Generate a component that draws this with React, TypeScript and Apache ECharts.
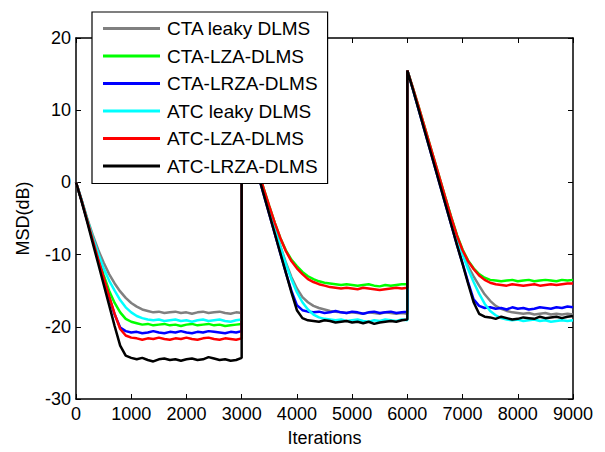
import React, { useEffect, useRef } from "react";
import * as echarts from "echarts";

const ITER = [
  0, 100, 200, 300, 400, 500, 600, 700, 800, 900, 1000, 1100, 1200, 1300, 1400, 1500, 1600, 1700, 1800, 1900, 2000, 2100, 2200, 2300, 2400, 2500, 2600, 2700, 2800, 2900, 3000,
  3000, 3100, 3200, 3300, 3400, 3500, 3600, 3700, 3800, 3900, 4000, 4100, 4200, 4300, 4400, 4500, 4600, 4700, 4800, 4900, 5000, 5100, 5200, 5300, 5400, 5500, 5600, 5700, 5800, 5900, 6000,
  6000, 6100, 6200, 6300, 6400, 6500, 6600, 6700, 6800, 6900, 7000, 7100, 7200, 7300, 7400, 7500, 7600, 7700, 7800, 7900, 8000, 8100, 8200, 8300, 8400, 8500, 8600, 8700, 8800, 8900, 9000,
];

const NAMES = ["CTA leaky DLMS", "CTA-LZA-DLMS", "CTA-LRZA-DLMS", "ATC leaky DLMS", "ATC-LZA-DLMS", "ATC-LRZA-DLMS"];
const COLORS = ["#808080", "#00ff00", "#0000ff", "#00ffff", "#ff0000", "#000000"];

const CTA_LEAKY = [
  0, -2.4, -4.9, -7.2, -9.3, -11.1, -12.7, -14.0, -15.1, -16.0, -16.7, -17.2, -17.6, -17.8, -18.0, -17.9, -18.1, -18.0, -17.9, -18.1, -18.0, -18.2, -18.0, -17.9, -18.1, -18.0, -17.9, -18.1, -18.2, -18.0, -18.1,
  9.0, 6.5, 3.9, 1.3, -1.3, -3.9, -6.4, -8.8, -11.1, -13.1, -14.7, -15.9, -16.6, -17.1, -17.4, -17.6, -17.8, -17.9, -18.0, -18.1, -18.0, -18.1, -18.2, -18.0, -18.1, -18.2, -18.0, -18.1, -18.2, -18.1, -18.2,
  15.5, 13.0, 10.4, 7.8, 5.2, 2.6, 0.0, -2.6, -5.1, -7.5, -9.8, -11.6, -13.0, -14.3, -15.5, -16.4, -17.1, -17.5, -17.8, -18.0, -18.1, -18.2, -18.1, -18.3, -18.2, -18.1, -18.3, -18.2, -18.3, -18.2, -18.3,
];
const CTA_LZA = [
  0, -2.5, -5.1, -7.7, -10.3, -12.8, -15.0, -16.7, -18.0, -18.9, -19.3, -19.5, -19.7, -19.6, -19.8, -19.7, -19.6, -19.8, -19.7, -19.9, -19.7, -19.6, -19.8, -19.7, -19.6, -19.8, -19.7, -19.9, -19.8, -19.7, -19.6,
  9.0, 6.6, 4.1, 1.6, -0.9, -3.3, -5.6, -7.7, -9.4, -10.7, -11.6, -12.4, -13.0, -13.4, -13.7, -13.9, -14.0, -14.1, -14.2, -14.1, -14.2, -14.3, -14.2, -14.1, -14.3, -14.4, -14.2, -14.3, -14.2, -14.1, -14.1,
  15.5, 13.1, 10.6, 8.0, 5.4, 2.8, 0.2, -2.4, -4.9, -7.3, -9.3, -10.8, -11.9, -12.7, -13.2, -13.5, -13.6, -13.7, -13.6, -13.5, -13.7, -13.6, -13.5, -13.7, -13.6, -13.5, -13.6, -13.7, -13.5, -13.6, -13.5,
];
const CTA_LRZA = [
  0, -2.5, -5.2, -7.9, -10.6, -13.3, -15.9, -18.3, -20.1, -20.6, -20.8, -20.7, -20.9, -20.8, -20.6, -20.8, -20.9, -20.7, -20.8, -20.6, -20.8, -20.9, -20.7, -20.8, -20.6, -20.7, -20.8, -20.9, -20.7, -20.8, -20.6,
  9.0, 6.4, 3.7, 1.0, -1.7, -4.4, -7.1, -9.8, -12.5, -15.0, -17.0, -17.7, -17.9, -18.0, -17.9, -18.1, -18.0, -17.8, -18.0, -18.1, -17.9, -18.0, -18.2, -18.0, -17.9, -18.1, -18.0, -17.9, -18.1, -18.0, -17.9,
  15.5, 12.9, 10.2, 7.5, 4.8, 2.1, -0.6, -3.3, -6.0, -8.7, -11.2, -13.8, -16.2, -17.1, -17.4, -17.3, -17.5, -17.4, -17.6, -17.3, -17.5, -17.4, -17.6, -17.5, -17.3, -17.4, -17.5, -17.3, -17.4, -17.2, -17.3,
];
const ATC_LEAKY = [
  0, -2.4, -5.0, -7.5, -9.8, -11.9, -13.6, -15.0, -16.3, -17.3, -18.0, -18.5, -18.8, -19.0, -19.1, -19.0, -19.2, -19.1, -19.0, -19.2, -19.1, -19.3, -19.1, -19.0, -19.2, -19.1, -19.0, -19.2, -19.3, -19.1, -19.0,
  9.0, 6.5, 3.9, 1.3, -1.3, -3.9, -6.4, -8.9, -11.3, -13.4, -15.2, -16.6, -17.6, -18.3, -18.7, -18.9, -19.0, -19.1, -19.0, -19.2, -19.1, -19.0, -19.2, -19.3, -19.1, -19.2, -19.0, -19.1, -19.2, -19.0, -19.1,
  15.5, 13.0, 10.4, 7.8, 5.2, 2.6, 0.0, -2.6, -5.2, -7.7, -10.0, -12.0, -13.8, -15.4, -16.8, -17.8, -18.4, -18.8, -19.0, -19.1, -19.0, -19.2, -19.1, -19.0, -19.2, -19.1, -19.3, -19.2, -19.1, -19.2, -19.1,
];
const ATC_LZA = [
  0, -2.5, -5.2, -7.9, -10.6, -13.2, -15.8, -18.2, -20.3, -21.2, -21.5, -21.6, -21.8, -21.6, -21.7, -21.5, -21.7, -21.8, -21.6, -21.7, -21.5, -21.7, -21.8, -21.6, -21.5, -21.7, -21.8, -21.6, -21.7, -21.8, -21.6,
  9.0, 6.6, 4.1, 1.6, -0.9, -3.3, -5.6, -7.7, -9.5, -10.9, -11.9, -12.7, -13.4, -13.8, -14.1, -14.3, -14.5, -14.6, -14.7, -14.6, -14.7, -14.8, -14.6, -14.7, -14.8, -14.9, -14.8, -14.7, -14.6, -14.7, -14.6,
  15.5, 13.1, 10.6, 8.0, 5.4, 2.8, 0.2, -2.4, -5.0, -7.4, -9.4, -10.9, -12.0, -12.9, -13.5, -13.9, -14.1, -14.2, -14.3, -14.1, -14.2, -14.3, -14.2, -14.1, -14.3, -14.2, -14.1, -14.2, -14.1, -14.0, -14.0,
];
const ATC_LRZA = [
  0, -2.6, -5.4, -8.3, -11.2, -14.1, -17.0, -19.9, -22.6, -24.0, -24.3, -24.5, -24.3, -24.6, -24.8, -24.5, -24.4, -24.6, -24.5, -24.7, -24.5, -24.4, -24.6, -24.5, -24.2, -24.4, -24.6, -24.5, -24.7, -24.6, -24.3,
  9.0, 6.4, 3.7, 1.0, -1.7, -4.4, -7.1, -9.8, -12.5, -15.2, -17.7, -18.8, -19.1, -19.2, -19.3, -19.1, -19.2, -19.4, -19.3, -19.2, -19.4, -19.3, -19.5, -19.3, -19.6, -19.4, -19.3, -19.2, -19.3, -19.1, -19.0,
  15.5, 12.9, 10.2, 7.5, 4.8, 2.1, -0.6, -3.3, -6.0, -8.7, -11.3, -14.0, -16.6, -18.2, -18.6, -18.7, -18.9, -18.6, -18.8, -19.0, -18.9, -18.7, -18.8, -18.9, -18.6, -18.8, -18.7, -18.6, -18.8, -18.6, -18.5,
];

const SERIES_VALUES = [CTA_LEAKY, CTA_LZA, CTA_LRZA, ATC_LEAKY, ATC_LZA, ATC_LRZA];

const FONT = "'Liberation Sans', Arial, sans-serif";

export default function App() {
  const ref = useRef<HTMLDivElement>(null);
  useEffect(() => {
    if (!ref.current) return;
    const chart = echarts.init(ref.current, undefined, { renderer: "svg" });
    const axisLine = { show: true, onZero: false, lineStyle: { color: "#000", width: 1.5 } };
    const axisTick = { show: true, inside: true, length: 5, lineStyle: { color: "#000", width: 1 } };
    const plain = (v: number) => String(v);
    chart.setOption({
      animation: false,
      backgroundColor: "#fff",
      grid: { left: 76, right: 32, top: 38, bottom: 50, containLabel: false },
      legend: {
        data: NAMES,
        orient: "vertical",
        left: 92,
        top: 12,
        padding: [7, 10, 8, 11],
        itemGap: 8.5,
        itemWidth: 57,
        itemHeight: 3,
        icon: "rect",
        backgroundColor: "#fff",
        borderColor: "#000",
        borderWidth: 1.2,
        textStyle: { fontSize: 19, fontFamily: FONT, color: "#000", padding: [0, 0, 0, 2] },
      },
      xAxis: [
        {
          type: "value",
          min: 0,
          max: 9000,
          interval: 1000,
          position: "bottom",
          axisLine,
          axisTick,
          splitLine: { show: false },
          axisLabel: { fontSize: 18, fontFamily: FONT, color: "#000", margin: 6, formatter: plain },
          name: "Iterations",
          nameLocation: "middle",
          nameGap: 30,
          nameTextStyle: { fontSize: 18, fontFamily: FONT, color: "#000" },
        },
        {
          type: "value",
          min: 0,
          max: 9000,
          interval: 1000,
          position: "top",
          axisLine,
          axisTick,
          splitLine: { show: false },
          axisLabel: { show: false },
        },
      ],
      yAxis: [
        {
          type: "value",
          min: -30,
          max: 20,
          interval: 10,
          position: "left",
          axisLine,
          axisTick,
          splitLine: { show: false },
          axisLabel: { fontSize: 18, fontFamily: FONT, color: "#000", margin: 5, formatter: plain },
          name: "MSD(dB)",
          nameLocation: "middle",
          nameGap: 44,
          nameTextStyle: { fontSize: 18, fontFamily: FONT, color: "#000" },
        },
        {
          type: "value",
          min: -30,
          max: 20,
          interval: 10,
          position: "right",
          axisLine,
          axisTick,
          splitLine: { show: false },
          axisLabel: { show: false },
        },
      ],
      series: NAMES.map((name, k) => ({
        name,
        type: "line",
        xAxisIndex: 0,
        yAxisIndex: 0,
        showSymbol: false,
        symbol: "none",
        color: COLORS[k],
        lineStyle: { color: COLORS[k], width: 2.5 },
        data: ITER.map((x, i) => [x, SERIES_VALUES[k][i]]),
      })),
    });
    return () => chart.dispose();
  }, []);
  return (
    <div
      ref={ref}
      style={{ position: "fixed", left: 0, top: 0, width: 605, height: 452, background: "#fff" }}
    />
  );
}
